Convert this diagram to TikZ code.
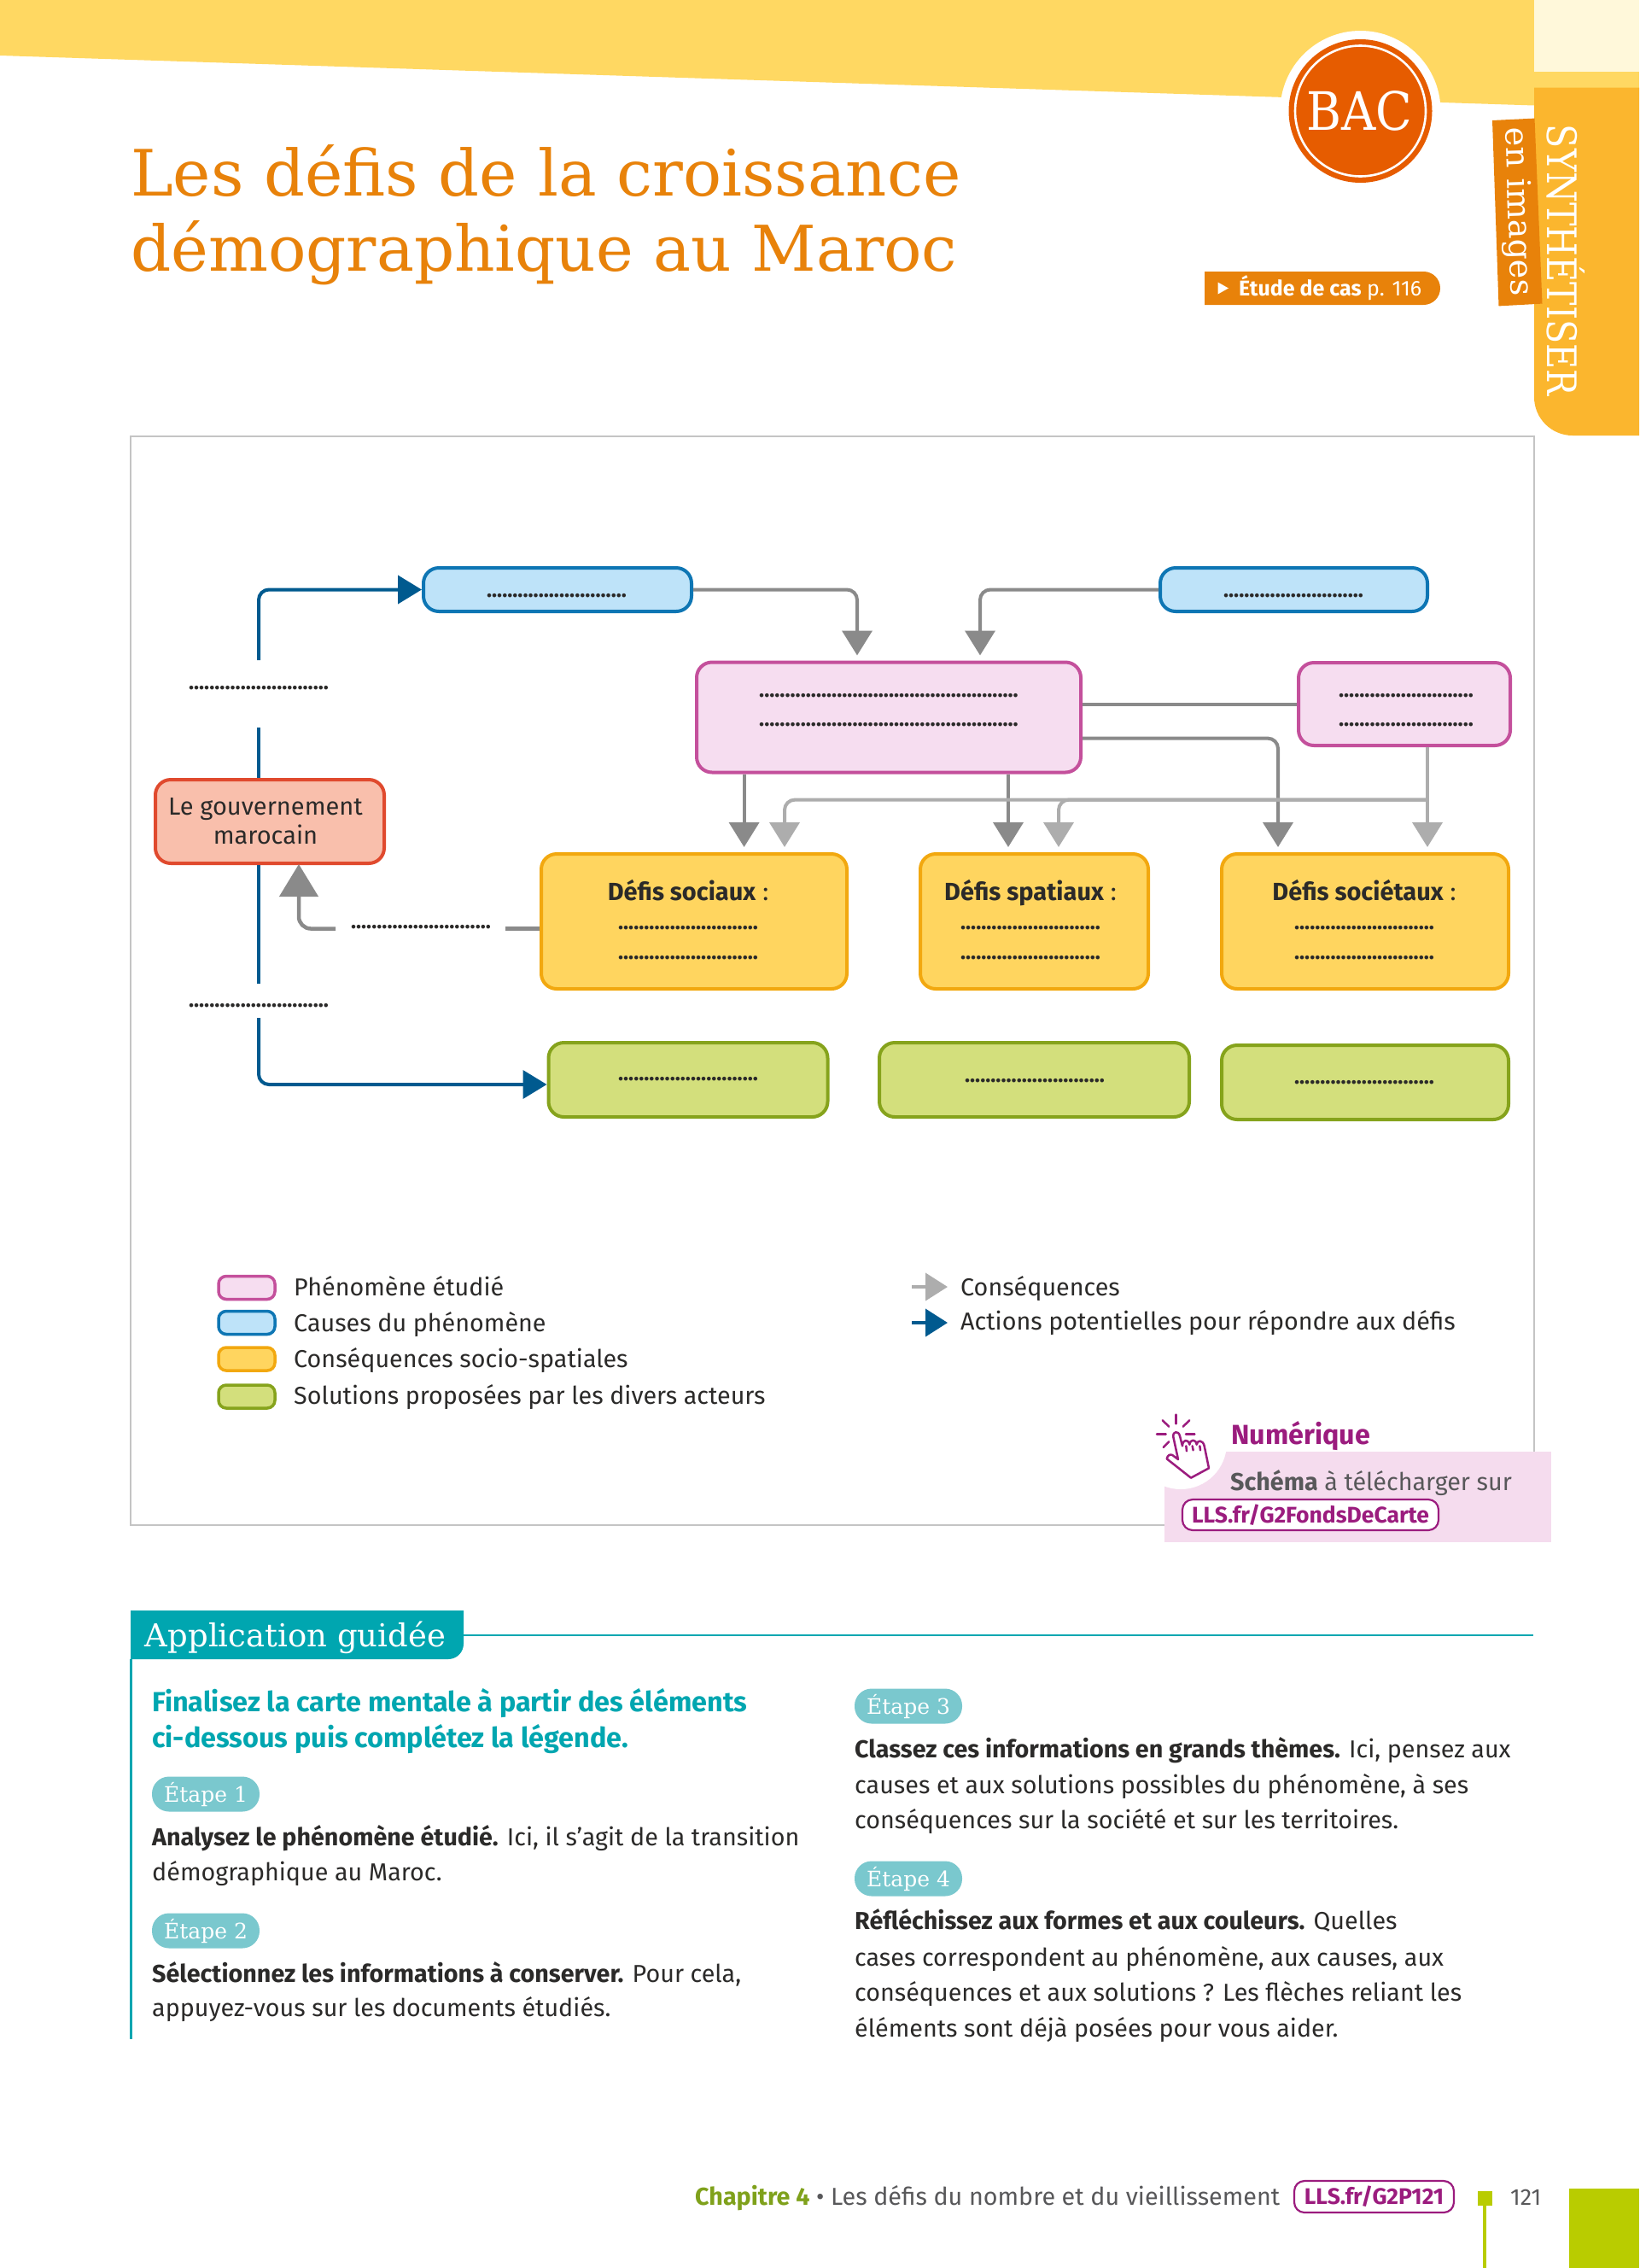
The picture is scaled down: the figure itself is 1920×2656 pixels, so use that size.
\documentclass[tikz,border=0pt]{standalone}
\usepackage{fontspec}
\setmainfont{Fira Sans}
\newfontfamily\slab{DejaVu Serif}
\usetikzlibrary{arrows.meta,calc}
\definecolor{topyellow}{HTML}{FFD862}
\definecolor{paleyellow}{HTML}{FFF8DA}
\definecolor{tabyellow}{HTML}{FBB62E}
\definecolor{tagorange}{HTML}{E8820A}
\definecolor{bacorange}{HTML}{E65C00}
\definecolor{framegrey}{HTML}{C4C4C4}
\definecolor{blueF}{HTML}{BEE3F9}\definecolor{blueD}{HTML}{0E76B4}
\definecolor{pinkF}{HTML}{F6DDF0}\definecolor{pinkD}{HTML}{C4509C}
\definecolor{govF}{HTML}{F9BFAC}\definecolor{govD}{HTML}{E04A2E}
\definecolor{yelF}{HTML}{FFD55F}\definecolor{yelD}{HTML}{F2A80F}
\definecolor{greF}{HTML}{D3DF7C}\definecolor{greD}{HTML}{86A31C}
\definecolor{inkdark}{HTML}{2B2A29}
\definecolor{arrowgrey}{HTML}{8A8A8A}
\definecolor{arrowlight}{HTML}{ADADAD}
\definecolor{arrowblue}{HTML}{005A8F}
\definecolor{teal}{HTML}{00A6B0}
\definecolor{pill}{HTML}{7AC8CE}
\definecolor{magent}{HTML}{9B1C7E}
\definecolor{softpink}{HTML}{F5DCEE}
\definecolor{softgrey}{HTML}{58585A}
\definecolor{lime}{HTML}{B9CC00}
\definecolor{chapgreen}{HTML}{7FA11B}
\newcommand{\fsz}[1]{\fontsize{#1}{#1}\selectfont}
\newcommand{\dotrow}[1]{{\fsz{25.3}\bfseries\foreach \i in {1,...,#1}{.}}}
\tikzset{
  bx/.style={rounded corners=18pt,line width=4pt,inner sep=0pt},
  bluebox/.style={bx,draw=blueD,fill=blueF},
  pinkbox/.style={bx,draw=pinkD,fill=pinkF},
  govbox/.style={bx,draw=govD,fill=govF},
  yelbox/.style={bx,draw=yelD,fill=yelF},
  grebox/.style={bx,draw=greD,fill=greF},
  dotlab/.style={inner sep=0pt,text=inkdark,yshift=3pt},
  body/.style={anchor=base west,inner sep=0pt,text=inkdark,font=\fsz{28.7}},
  defi/.style={anchor=base,inner sep=0pt,text=inkdark,font=\fsz{29}},
  greyline/.style={draw=arrowgrey,line width=4pt,rounded corners=12pt},
  greyarrow/.style={greyline,-{Triangle[length=29pt,width=35pt,fill=arrowgrey]},shorten >=6pt},
  lightarrow/.style={draw=arrowlight,line width=4pt,rounded corners=12pt,-{Triangle[length=29pt,width=35pt,fill=arrowlight]},shorten >=6pt},
  bluearrow/.style={draw=arrowblue,line width=4pt,rounded corners=12pt,-{Triangle[length=28pt,width=33pt,fill=arrowblue]}},
  swatch/.style={rounded corners=9pt,line width=3.5pt,inner sep=0pt,minimum width=66pt,minimum height=27pt},
  stepill/.style={fill=pill,text=white,rounded corners=20pt,inner sep=0pt,minimum width=126pt,minimum height=41pt,font=\slab\fsz{25}},
  linkbox/.style={draw=magent,fill=white,line width=2.2pt,rounded corners=12pt,inner sep=0pt,text=magent,font=\fsz{26.5}\bfseries},
}
\begin{document}
\begin{tikzpicture}[x=1pt,y=-1pt]
\useasboundingbox (0,0) rectangle (1920,2656);
\fill[white] (0,0) rectangle (1920,2656);
% header
\fill[topyellow] (0,65) -- (1797,123.5) -- (1797,0) -- (0,0) -- cycle;
\fill[topyellow] (1797,84) rectangle (1920,103);
\fill[paleyellow] (1797,0) rectangle (1920,84);
\fill[tabyellow] (1797,102.5) -- (1920,102.5) -- (1920,510) -- (1842,510) arc[start angle=90,end angle=180,radius=45] -- cycle;
\node[rotate=-90,text=white,inner sep=0pt] (synth) at (1834,305) {\resizebox{318pt}{44pt}{\slab SYNTHÉTISER}};
\fill[tagorange] (1748,141) -- (1797.5,138.6) -- (1806.5,355.6) -- (1755.5,358.4) -- cycle;
\node[rotate=-88,text=white,inner sep=0pt] (enimg) at (1776.5,248) {\resizebox{197pt}{!}{\slab en images}};
% BAC
\fill[white] (1593.5,130) circle[radius=94];
\fill[bacorange] (1593.5,130) circle[radius=84];
\draw[white,line width=2.6pt] (1593.5,130) circle[radius=76.5];
\node[text=white,inner sep=0pt] (bac) at (1592.5,130) {\resizebox{124pt}{46pt}{\slab BAC}};
% title
\node[anchor=base west,inner sep=0pt,text=tagorange] (t1) at (153,229) {\resizebox{972pt}{!}{\slab Les défis de la croissance}};
\node[anchor=base west,inner sep=0pt,text=tagorange] (t2) at (153,317) {\resizebox{968pt}{!}{\slab démographique au Maroc}};
% study tag
\fill[tagorange] (1411,318) -- (1667.5,318) arc[start angle=-90,end angle=90,radius=19.5] -- (1411,357) -- cycle;
\fill[white] (1426.5,330.5) -- (1439,337.5) -- (1426.5,344.5) -- cycle;
\node[anchor=base west,inner sep=0pt,text=white,font=\fsz{25}] (tag) at (1451,346) {\textbf{Étude de cas} p. 116};
% frame
\draw[framegrey,line width=2.2pt] (153,511) rectangle (1797,1786);
% boxes
\node[bluebox,minimum width=314pt,minimum height=51pt] (blueA) at (653,690.5) {};
\node[bluebox,minimum width=313pt,minimum height=51pt] (blueB) at (1515.5,690.5) {};
\node[pinkbox,minimum width=450pt,minimum height=129pt] (mainp) at (1041,840) {};
\node[pinkbox,minimum width=248pt,minimum height=97pt] (pinkR) at (1645,824.5) {};
\node[govbox,minimum width=268pt,minimum height=98pt,align=center,text=inkdark,font=\fsz{29}] (gov) at (316,962) {};
\node[inner sep=0pt,text=inkdark,font=\fsz{29}] (govT) at (311,966) {\begin{tabular}{@{}c@{}}Le gouvernement\\[3pt]marocain\end{tabular}};
\node[yelbox,minimum width=358pt,minimum height=158pt] (defA) at (813,1079) {};
\node[yelbox,minimum width=267pt,minimum height=158pt] (defB) at (1211.5,1079) {};
\node[yelbox,minimum width=336pt,minimum height=158pt] (defC) at (1599,1079) {};
\node[grebox,minimum width=327pt,minimum height=87pt] (solA) at (806,1264.5) {};
\node[grebox,minimum width=363pt,minimum height=87pt] (solB) at (1211.5,1264.5) {};
\node[grebox,minimum width=336pt,minimum height=87pt] (solC) at (1599,1267.5) {};
% dotted rows
\node[dotlab,anchor=base] (dB1) at (652,702) {\dotrow{27}};
\node[dotlab,anchor=base] (dB2) at (1515,702) {\dotrow{27}};
\node[dotlab,anchor=base] (dM1) at (1041,819) {\dotrow{50}};
\node[dotlab,anchor=base] (dM2) at (1041,853) {\dotrow{50}};
\node[dotlab,anchor=base] (dP1) at (1647,819) {\dotrow{26}};
\node[dotlab,anchor=base] (dP2) at (1647,853) {\dotrow{26}};
\node[dotlab,anchor=base] (dL1) at (303,810) {\dotrow{27}};
\node[dotlab,anchor=base] (dL2) at (303,1182) {\dotrow{27}};
\node[dotlab,anchor=base] (dL3) at (493,1090) {\dotrow{27}};
\node[defi] (hA) at (806,1054) {\textbf{Défis sociaux} :};
\node[defi] (hB) at (1207,1054) {\textbf{Défis spatiaux} :};
\node[defi] (hC) at (1598,1054) {\textbf{Défis sociétaux} :};
\node[dotlab,anchor=base] (dA1) at (806,1091) {\dotrow{27}};
\node[dotlab,anchor=base] (dA2) at (806,1126) {\dotrow{27}};
\node[dotlab,anchor=base] (dB3) at (1207,1091) {\dotrow{27}};
\node[dotlab,anchor=base] (dB4) at (1207,1126) {\dotrow{27}};
\node[dotlab,anchor=base] (dC1) at (1598,1091) {\dotrow{27}};
\node[dotlab,anchor=base] (dC2) at (1598,1126) {\dotrow{27}};
\node[dotlab,anchor=base] (dS1) at (806,1268) {\dotrow{27}};
\node[dotlab,anchor=base] (dS2) at (1212,1270) {\dotrow{27}};
\node[dotlab,anchor=base] (dS3) at (1598,1272) {\dotrow{27}};
% connector helpers
\coordinate (xA) at (1004,0);
\coordinate (xB) at (1148,0);
\coordinate (xC) at (871.6,0);
\coordinate (xD) at (919,0);
\coordinate (xE) at (1181,0);
\coordinate (xF) at (1240,0);
\coordinate (xG) at (1497,0);
\coordinate (xH) at (1672,0);
\coordinate (xV) at (303,0);
\coordinate (lj) at (1672,936.6);
\coordinate (a1) at (303,852);
\coordinate (a2) at (303,773);
\coordinate (b1) at (303,1152);
\coordinate (b2) at (303,1192);
\coordinate (g1) at (592,1087.5);
\coordinate (g2) at (393,1087.5);
\coordinate (g3) at (350,0);
% connectors
\draw[greyarrow] (blueA.east) -| (mainp.north -| xA);
\draw[greyarrow] (blueB.west) -| (mainp.north -| xB);
\draw[greyline,rounded corners=0pt] (mainp.east |- pinkR.west) -- (pinkR.west);
\draw[greyarrow] ([yshift=-24.6pt]mainp.east) -| (defC.north -| xG);
\draw[greyarrow,rounded corners=0pt] (mainp.south -| xC) -- (defA.north -| xC);
\draw[greyarrow,rounded corners=0pt] (mainp.south -| xE) -- (defB.north -| xE);
\draw[lightarrow,rounded corners=0pt] (pinkR.south -| xH) -- (defC.north -| xH);
\draw[lightarrow] (lj) -| (defA.north -| xD);
\draw[lightarrow] (lj) -| (defB.north -| xF);
\draw[draw=arrowblue,line width=4pt] (gov.north -| xV) -- (a1);
\draw[bluearrow] (a2) |- (blueA.west);
\draw[draw=arrowblue,line width=4pt] (gov.south -| xV) -- (b1);
\draw[bluearrow] (b2) |- ([yshift=-5.5pt]solA.west);
\draw[draw=arrowgrey,line width=4.5pt] (defA.west |- g1) -- (g1);
\draw[draw=arrowgrey,line width=4.5pt,rounded corners=14pt,-{Triangle[length=38pt,width=45pt,fill=arrowgrey]},shorten >=-1pt] (g2) -| (gov.south -| g3);
% legend
\node[swatch,draw=pinkD,fill=pinkF] (s1) at (289,1508) {};
\node[swatch,draw=blueD,fill=blueF] (s2) at (289,1549) {};
\node[swatch,draw=yelD,fill=yelF] (s3) at (289,1591.5) {};
\node[swatch,draw=greD,fill=greF] (s4) at (289,1635.5) {};
\node[body] (l1) at (344,1517) {Phénomène étudié};
\node[body] (l2) at (344,1559) {Causes du phénomène};
\node[body] (l3) at (344,1601) {Conséquences socio-spatiales};
\node[body] (l4) at (344,1644) {Solutions proposées par les divers acteurs};
\coordinate (ga) at (1068,1507);\coordinate (gb) at (1110,1507);
\coordinate (ba) at (1068,1549);\coordinate (bb) at (1110,1549);
\draw[draw=arrowlight,line width=4pt,-{Triangle[length=26pt,width=32pt,fill=arrowlight]}] (ga) -- (gb);
\draw[draw=arrowblue,line width=4pt,-{Triangle[length=26pt,width=32pt,fill=arrowblue]}] (ba) -- (bb);
\node[body] (l5) at (1125,1517) {Conséquences};
\node[body] (l6) at (1125,1557.5) {Actions potentielles pour répondre aux défis};
% numerique
\fill[softpink] (1364,1700) rectangle (1817,1806);
\fill[white] (1383,1690) circle[radius=54];
\begin{scope}[shift={(1340,1640)},x=0.3333pt,y=-0.3333pt,draw=magent,line width=2.5pt,line cap=round,line join=round]
\draw (80,205) .. controls (83,192) and (92,188) .. (100,192) -- (120,207) -- (103,128) .. controls (100,108) and (122,105) .. (126,125) -- (135,160) .. controls (135,138) and (155,133) .. (160,155) .. controls (163,135) and (182,135) .. (185,155) .. controls (187,138) and (207,138) .. (212,160) -- (228,238) -- (165,272) -- cycle;
\draw (148,160) -- (150,178);
\draw (170,160) -- (173,175);
\draw (196,160) -- (198,175);
\draw (112,50) -- (112,82);
\draw (65,70) -- (88,92);
\draw (160,70) -- (137,92);
\draw (45,118) -- (77,118);
\draw (147,118) -- (178,118);
\draw (68,165) -- (88,145);
\end{scope}
\node[anchor=base west,inner sep=0pt,text=magent,font=\fsz{32.3}\bfseries] (num) at (1442,1691) {Numérique};
\node[anchor=base west,inner sep=0pt,text=softgrey,font=\fsz{28.7}] (sch) at (1441,1745) {\textbf{Schéma} à télécharger sur};
\node[linkbox,minimum width=300pt,minimum height=36pt] (lnk) at (1535,1774) {LLS.fr/G2FondsDeCarte};
% application
\draw[teal,line width=2.5pt] (153.5,1943) -- (153.5,2388);
\draw[teal,line width=2pt] (543,1915) -- (1796,1915);
\fill[teal] (153,1886) -- (543,1886) -- (543,1925) arc[start angle=0,end angle=90,radius=18] -- (153,1943) -- cycle;
\node[text=white,inner sep=0pt] (app) at (346,1918) {\resizebox{352pt}{!}{\slab Application guidée}};
\node[body,font=\fsz{32.4}\bfseries,text=teal] (h1) at (178,2004) {Finalisez la carte mentale à partir des éléments};
\node[body,font=\fsz{32.4}\bfseries,text=teal] (h2) at (178,2046) {ci-dessous puis complétez la légende.};
\node[stepill] (e1) at (241,2101) {Étape 1};
\node[body] (b1a) at (178,2161) {\textbf{Analysez le phénomène étudié.} Ici, il s’agit de la transition};
\node[body] (b1b) at (178,2202) {démographique au Maroc.};
\node[stepill] (e2) at (241,2261) {Étape 2};
\node[body] (b2a) at (178,2321) {\textbf{Sélectionnez les informations à conserver.} Pour cela,};
\node[body] (b2b) at (178,2361) {appuyez-vous sur les documents étudiés.};
\node[stepill] (e3) at (1064,1998) {Étape 3};
\node[body] (b3a) at (1001,2058) {\textbf{Classez ces informations en grands thèmes.} Ici, pensez aux};
\node[body] (b3b) at (1001,2100) {causes et aux solutions possibles du phénomène, à ses};
\node[body] (b3c) at (1001,2141) {conséquences sur la société et sur les territoires.};
\node[stepill] (e4) at (1064,2200) {Étape 4};
\node[body] (b4a) at (1001,2259) {\textbf{Réfléchissez aux formes et aux couleurs.} Quelles};
\node[body] (b4b) at (1001,2302) {cases correspondent au phénomène, aux causes, aux};
\node[body] (b4c) at (1001,2343) {conséquences et aux solutions ? Les flèches reliant les};
\node[body] (b4d) at (1001,2385) {éléments sont déjà posées pour vous aider.};
% footer
\node[anchor=base west,inner sep=0pt,font=\fsz{28.7}] (f1) at (814,2582) {\textcolor{chapgreen}{\textbf{Chapitre 4}}\textcolor{softgrey}{\ • Les défis du nombre et du vieillissement}};
\node[linkbox,minimum width=187pt,minimum height=37pt] (f2) at (1609.5,2572.5) {LLS.fr/G2P121};
\fill[lime] (1731,2566) rectangle (1748,2583);
\fill[lime] (1737,2583) rectangle (1741,2656);
\node[anchor=base west,inner sep=0pt,text=softgrey,font=\fsz{27}] (pg) at (1769,2582) {121};
\fill[lime] (1838,2563) rectangle (1920,2656);
\end{tikzpicture}
\end{document}
